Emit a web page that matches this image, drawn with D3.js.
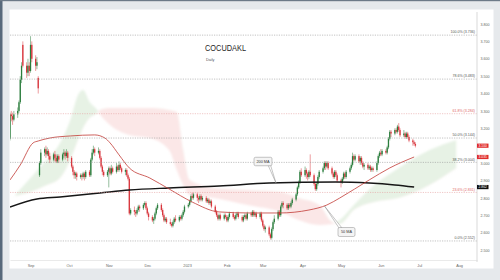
<!DOCTYPE html>
<html>
<head>
<meta charset="utf-8">
<script src="https://cdn.jsdelivr.net/npm/d3@7"></script>
<style>
  body { margin: 0; background: #e6e9ec; }
  svg { display: block; font-family: "Liberation Sans", Arial, sans-serif; }
</style>
</head>
<body>
<script>
// daily sessions start here (weekdays only)
const firstSession = new Date(2022, 7, 16);

// [open, high, low, close] per session
const ohlc = [
  [3.14,3.29,3.13,3.28],[3.28,3.30,3.24,3.27],[3.27,3.29,3.22,3.25],[3.25,3.30,3.24,3.28],[3.28,3.32,3.26,3.30],
  [3.30,3.36,3.29,3.35],[3.35,3.50,3.34,3.48],[3.48,3.58,3.46,3.56],[3.68,3.70,3.55,3.56],[3.56,3.58,3.49,3.52],
  [3.52,3.60,3.50,3.56],[3.56,3.58,3.50,3.53],[3.53,3.73,3.52,3.68],[3.68,3.70,3.58,3.60],[3.60,3.62,3.53,3.56],
  [3.56,3.61,3.54,3.58],[3.49,3.50,3.40,3.43],[2.93,3.01,2.92,3.00],
  [3.00,3.08,2.99,3.06],[3.06,3.09,3.04,3.08],[3.08,3.10,3.03,3.05],[3.05,3.09,3.04,3.07],[3.07,3.08,3.02,3.04],
  [3.04,3.06,3.00,3.02],[3.02,3.06,3.01,3.05],[3.05,3.07,3.01,3.03],[3.03,3.05,3.00,3.01],[3.01,3.05,3.00,3.04],
  [3.04,3.05,3.00,3.02],[3.02,3.06,3.01,3.05],[3.05,3.08,3.03,3.06],[3.06,3.07,3.02,3.04],[3.04,3.08,3.03,3.06],
  [3.06,3.07,3.01,3.03],[3.03,3.04,2.97,2.98],[2.98,2.99,2.93,2.95],[2.95,2.96,2.91,2.93],[2.93,2.95,2.91,2.94],
  [2.94,2.95,2.90,2.92],[2.92,2.94,2.91,2.93],[2.93,2.94,2.90,2.92],[2.92,2.95,2.91,2.94],[2.94,2.95,2.90,2.92],
  [2.92,2.96,2.91,2.95],[2.95,2.96,2.92,2.93],[2.93,3.03,2.92,3.02],[3.02,3.08,3.01,3.06],[3.06,3.10,3.05,3.08],
  [3.08,3.09,3.04,3.06],[3.06,3.09,3.05,3.07],[3.07,3.08,3.02,3.03],[3.03,3.04,2.97,2.98],[2.98,2.99,2.93,2.95],
  [2.95,2.96,2.92,2.93],[2.93,2.96,2.92,2.95],[2.95,2.98,2.86,2.97],[2.97,2.98,2.93,2.94],[2.94,2.99,2.93,2.97],
  [2.97,2.98,2.94,2.95],[2.95,3.00,2.94,2.98],[2.98,2.99,2.95,2.96],[2.96,3.01,2.95,2.99],[2.99,3.00,2.96,2.97],
  [2.97,2.98,2.94,2.95],[2.95,2.97,2.93,2.96],[2.96,2.97,2.92,2.93],[2.93,2.94,2.90,2.91],[2.91,2.92,2.70,2.71],
  [2.71,2.74,2.70,2.73],[2.73,2.75,2.70,2.72],[2.72,2.73,2.69,2.71],[2.71,2.74,2.70,2.73],[2.73,2.76,2.72,2.75],
  [2.75,2.76,2.72,2.74],[2.74,2.77,2.73,2.76],[2.76,2.78,2.75,2.77],[2.77,2.78,2.73,2.74],[2.74,2.75,2.70,2.71],
  [2.71,2.72,2.67,2.69],[2.69,2.70,2.66,2.67],[2.67,2.69,2.65,2.68],[2.68,2.72,2.67,2.71],[2.71,2.75,2.70,2.74],
  [2.74,2.77,2.73,2.76],[2.76,2.77,2.72,2.73],[2.73,2.74,2.69,2.70],[2.70,2.71,2.66,2.67],[2.67,2.69,2.66,2.68],
  [2.68,2.69,2.65,2.66],[2.66,2.68,2.64,2.65],[2.65,2.66,2.63,2.64],[2.64,2.67,2.63,2.66],[2.66,2.69,2.65,2.68],
  [2.68,2.70,2.66,2.67],[2.67,2.70,2.66,2.69],[2.69,2.70,2.67,2.68],[2.68,2.71,2.67,2.70],[2.70,2.73,2.69,2.72],
  [2.72,2.76,2.71,2.75],[2.75,2.77,2.74,2.76],[2.76,2.79,2.75,2.78],[2.78,2.82,2.77,2.81],[2.81,2.83,2.79,2.80],
  [2.80,2.83,2.79,2.82],[2.82,2.83,2.78,2.80],[2.80,2.81,2.77,2.79],[2.79,2.82,2.78,2.81],[2.81,2.82,2.78,2.79],
  [2.79,2.81,2.78,2.80],[2.80,2.81,2.77,2.78],[2.78,2.80,2.77,2.79],[2.79,2.80,2.76,2.77],[2.77,2.79,2.76,2.78],
  [2.78,2.79,2.74,2.75],[2.75,2.76,2.71,2.72],[2.72,2.73,2.69,2.70],[2.70,2.71,2.67,2.68],[2.68,2.71,2.67,2.70],
  [2.70,2.71,2.67,2.68],[2.68,2.71,2.67,2.70],[2.70,2.71,2.68,2.69],[2.69,2.70,2.66,2.67],[2.67,2.70,2.66,2.69],
  [2.69,2.72,2.68,2.71],[2.71,2.72,2.68,2.69],[2.69,2.70,2.67,2.68],[2.68,2.71,2.67,2.70],[2.70,2.72,2.69,2.71],
  [2.71,2.72,2.68,2.69],[2.69,2.70,2.66,2.67],[2.67,2.70,2.66,2.69],[2.69,2.71,2.68,2.70],[2.70,2.71,2.67,2.68],
  [2.68,2.72,2.67,2.71],[2.71,2.72,2.69,2.70],[2.70,2.73,2.69,2.72],[2.72,2.73,2.69,2.70],[2.70,2.72,2.69,2.71],
  [2.71,2.72,2.68,2.69],[2.69,2.72,2.68,2.71],[2.71,2.72,2.66,2.67],[2.67,2.68,2.63,2.64],[2.64,2.65,2.61,2.62],
  [2.62,2.64,2.60,2.63],[2.63,2.64,2.58,2.59],[2.59,2.60,2.56,2.57],[2.57,2.63,2.56,2.62],[2.62,2.67,2.61,2.66],
  [2.66,2.70,2.65,2.68],[2.68,2.73,2.67,2.72],[2.72,2.73,2.69,2.70],[2.70,2.76,2.69,2.75],[2.75,2.78,2.74,2.77],
  [2.77,2.78,2.74,2.76],[2.76,2.77,2.73,2.74],[2.74,2.77,2.73,2.76],[2.76,2.77,2.74,2.75],[2.75,2.78,2.74,2.77],
  [2.77,2.80,2.76,2.79],[2.79,2.83,2.78,2.82],[2.82,2.87,2.81,2.86],[2.86,2.90,2.85,2.89],[2.89,2.96,2.88,2.95],
  [2.95,2.97,2.92,2.93],[2.93,2.98,2.92,2.96],[2.96,2.97,2.91,2.94],[2.94,2.95,2.90,2.92],[2.92,2.96,2.91,2.95],
  [2.95,3.05,2.92,2.93],[2.93,2.94,2.87,2.88],[2.88,2.89,2.84,2.85],[2.85,2.89,2.84,2.88],[2.88,2.93,2.87,2.92],
  [2.92,2.96,2.91,2.95],[2.95,2.98,2.94,2.97],[2.97,3.01,2.96,3.00],[3.00,3.01,2.96,2.98],[2.98,3.01,2.97,3.00],
  [3.00,3.01,2.96,2.97],[2.97,2.98,2.93,2.94],[2.94,2.95,2.91,2.92],[2.92,2.96,2.91,2.95],[2.95,2.96,2.92,2.93],
  [2.93,2.94,2.89,2.90],[2.90,2.91,2.86,2.89],[2.89,2.92,2.88,2.91],[2.91,2.95,2.90,2.94],[2.94,2.95,2.91,2.92],
  [2.92,2.96,2.91,2.95],[2.95,2.98,2.94,2.97],[2.97,3.00,2.96,2.99],[2.99,3.06,2.98,3.04],[3.04,3.05,3.01,3.02],
  [3.02,3.05,3.01,3.04],[3.04,3.05,3.00,3.01],[3.01,3.04,2.99,3.03],[3.03,3.04,2.99,3.00],[3.00,3.01,2.97,2.98],
  [2.98,3.00,2.96,2.99],[2.99,3.00,2.96,2.97],[2.97,2.99,2.96,2.98],[2.98,2.99,2.95,2.96],[2.96,2.98,2.95,2.97],
  [2.97,2.98,2.95,2.96],[2.96,3.01,2.95,3.00],[3.00,3.05,2.99,3.04],[3.04,3.07,3.03,3.06],[3.06,3.08,3.04,3.05],
  [3.05,3.08,3.04,3.07],[3.07,3.08,3.05,3.06],[3.06,3.10,3.05,3.09],[3.09,3.15,3.08,3.14],[3.14,3.19,3.13,3.18],
  [3.18,3.19,3.15,3.17],[3.17,3.20,3.16,3.19],[3.19,3.20,3.17,3.18],[3.18,3.22,3.17,3.21],[3.21,3.23,3.18,3.19],
  [3.19,3.20,3.15,3.16],[3.16,3.19,3.15,3.17],[3.17,3.18,3.14,3.15],[3.15,3.18,3.14,3.17],[3.17,3.18,3.14,3.15],
  [3.15,3.16,3.12,3.13],[3.13,3.14,3.10,3.12],[3.12,3.13,3.10,3.11],[3.11,3.12,3.09,3.10]
];

// moving averages, sampled off the chart [date, value]
const ma50 = [
  ['2022-08-16',2.903],['2022-08-24',2.989],['2022-09-03',3.116],['2022-09-07',3.127],['2022-09-16',3.144],
  ['2022-10-02',3.156],['2022-10-21',3.162],['2022-10-29',3.144],['2022-11-02',3.116],['2022-11-09',3.047],
  ['2022-11-17',2.972],['2022-12-03',2.914],['2022-12-18',2.851],['2023-01-05',2.776],['2023-01-26',2.719],
  ['2023-02-19',2.713],['2023-03-14',2.713],['2023-04-06',2.730],['2023-04-20',2.759],['2023-04-30',2.799],
  ['2023-05-23',2.903],['2023-06-08',2.972],['2023-06-27',3.035]
];
const ma200 = [
  ['2022-08-16',2.747],['2022-09-06',2.793],['2022-09-24',2.805],['2022-10-25',2.828],['2022-11-17',2.845],
  ['2022-12-18',2.857],['2023-01-26',2.868],['2023-03-06',2.885],['2023-04-27',2.891],['2023-05-23',2.885],
  ['2023-06-12',2.874],['2023-06-27',2.862]
];

// ichimoku cloud edges [date, span A, span B]
const cloud = [
  ['2022-08-20',2.816,2.811],['2022-09-01',2.914,2.834],['2022-09-12',3.006,2.868],['2022-09-24',3.116,2.914],
  ['2022-10-02',3.248,3.018],['2022-10-08',3.392,3.133],['2022-10-12',3.421,3.202],['2022-10-17',3.352,3.259],
  ['2022-10-23',3.306,3.288],['2022-10-25',3.282,3.306],['2022-11-02',3.219,3.317],['2022-11-17',3.162,3.317],
  ['2022-12-03',3.144,3.317],['2022-12-18',3.075,3.306],['2022-12-24',2.960,3.294],['2022-12-29',2.874,3.075],
  ['2023-01-03',2.816,2.903],['2023-01-22',2.799,2.857],['2023-02-17',2.759,2.845],['2023-03-15',2.719,2.834],
  ['2023-03-29',2.673,2.799],['2023-04-14',2.644,2.759],['2023-04-24',2.650,2.661],['2023-04-30',2.673,2.650],
  ['2023-05-11',2.759,2.730],['2023-05-27',2.874,2.776],['2023-06-15',2.972,2.799],['2023-07-09',3.075,2.874],
  ['2023-07-30',3.133,2.972]
];

// fibonacci retracement
const fibNames = ['0.0%', '23.6%', '38.2%', '50.0%', '61.8%', '78.6%', '100.0%'];
const fibValues = [2.552, 2.831, 3.004, 3.144, 3.284, 3.483, 3.736];
const fibRed = ['23.6%', '61.8%'];

const yTicks = [2.5, 2.6, 2.7, 2.8, 2.9, 3.0, 3.1, 3.2, 3.3, 3.4, 3.5, 3.6, 3.7, 3.8];
const monthTicks = ['2022-09-01', '2022-10-01', '2022-11-01', '2022-12-01', '2023-01-01', '2023-02-01',
  '2023-03-01', '2023-04-01', '2023-05-01', '2023-06-01', '2023-07-01', '2023-08-01'];

// constants
const width = 500;
const height = 280;
const plot = { left: 10, right: 477, top: 10, bottom: 260 };

const parse = d3.timeParse('%Y-%m-%d');

// one date per weekday session
const sessions = d3.timeDay.range(firstSession, new Date(2023, 6, 1))
  .filter((d) => d.getDay() !== 0 && d.getDay() !== 6)
  .slice(0, ohlc.length);
const candles = ohlc.map((r, i) => ({ date: sessions[i], o: r[0], h: r[1], l: r[2], c: r[3] }));

const x = d3.scaleTime()
  .domain([new Date(2022, 7, 16), new Date(2023, 7, 15)])
  .range([plot.left, plot.right]);
const y = d3.scaleLinear()
  .domain([2.5, 3.8])
  .range([250, 24]);

const svg = d3.select('body').append('svg')
  .attr('width', width)
  .attr('height', height);

// frame round the chart panel
svg.append('rect').attr('width', width).attr('height', height).attr('fill', '#e6e9ec');
svg.append('rect').attr('width', 2.5).attr('height', height).attr('fill', '#58697b');
svg.append('rect').attr('width', width).attr('height', 1.2).attr('fill', '#6d7a88');
svg.append('rect')
  .attr('x', 9.5).attr('y', 9.5)
  .attr('width', 484).attr('height', 259)
  .attr('fill', '#fff');

const defs = svg.append('defs');
defs.append('clipPath').attr('id', 'plot-clip')
  .append('rect')
  .attr('x', plot.left).attr('y', plot.top)
  .attr('width', plot.right - plot.left).attr('height', plot.bottom - plot.top);
defs.append('filter').attr('id', 'soft')
  .append('feGaussianBlur').attr('stdDeviation', 1.1);

const cloudData = cloud.map((d) => ({ date: parse(d[0]), a: d[1], b: d[2] }));
const curve = d3.curveMonotoneX;

// clip regions above / below span B, so the cloud turns green or red
defs.append('clipPath').attr('id', 'above-b')
  .append('path')
  .attr('d', d3.area().curve(curve).x((d) => x(d.date)).y0(0).y1((d) => y(d.b))(cloudData));
defs.append('clipPath').attr('id', 'below-b')
  .append('path')
  .attr('d', d3.area().curve(curve).x((d) => x(d.date)).y0(height).y1((d) => y(d.b))(cloudData));

const chart = svg.append('g').attr('clip-path', 'url(#plot-clip)');

const cloudArea = d3.area().curve(curve)
  .x((d) => x(d.date))
  .y0((d) => y(d.b))
  .y1((d) => y(d.a));
const cloudG = chart.append('g').attr('filter', 'url(#soft)');
cloudG.append('g').attr('clip-path', 'url(#above-b)')
  .append('path')
  .attr('d', cloudArea(cloudData))
  .attr('fill', '#cfe6cc')
  .attr('opacity', 0.5);
cloudG.append('g').attr('clip-path', 'url(#below-b)')
  .append('path')
  .attr('d', cloudArea(cloudData))
  .attr('fill', '#f7caca')
  .attr('opacity', 0.45);

// fibonacci levels
const fib = svg.append('g');
fib.selectAll('line')
  .data(fibValues)
  .join('line')
  .attr('x1', plot.left)
  .attr('x2', plot.right)
  .attr('y1', (d) => y(d))
  .attr('y2', (d) => y(d))
  .attr('stroke', (d, i) => (fibRed.includes(fibNames[i]) ? '#e6a3a3' : '#9a9a9a'))
  .attr('stroke-width', 0.6)
  .attr('stroke-dasharray', '1.2 1.2');
fib.selectAll('text')
  .data(fibValues)
  .join('text')
  .attr('x', plot.right - 2)
  .attr('y', (d) => y(d) - 1.8)
  .attr('text-anchor', 'end')
  .attr('font-size', 3.6)
  .attr('fill', (d, i) => (fibRed.includes(fibNames[i]) ? '#e06666' : '#555'))
  .text((d, i) => `${fibNames[i]} (${d.toFixed(3)})`);

// candles
const bodyW = 1.3;
const candle = chart.append('g')
  .selectAll('g')
  .data(candles)
  .join('g')
  .attr('transform', (d) => `translate(${x(d.date)},0)`);
candle.append('line')
  .attr('y1', (d) => y(d.h))
  .attr('y2', (d) => y(d.l))
  .attr('stroke', (d) => (d.c >= d.o ? '#2a7d3c' : '#d8363d'))
  .attr('stroke-width', 0.5);
candle.append('rect')
  .attr('x', -bodyW / 2)
  .attr('width', bodyW)
  .attr('y', (d) => y(Math.max(d.o, d.c)))
  .attr('height', (d) => Math.max(0.5, Math.abs(y(d.o) - y(d.c))))
  .attr('fill', (d) => (d.c >= d.o ? '#2a7d3c' : '#d8363d'));

// moving averages
const maLine = d3.line().curve(curve)
  .x((d) => x(parse(d[0])))
  .y((d) => y(d[1]));
chart.append('path')
  .attr('d', maLine(ma200))
  .attr('fill', 'none')
  .attr('stroke', '#161616')
  .attr('stroke-width', 1.4);
chart.append('path')
  .attr('d', maLine(ma50))
  .attr('fill', 'none')
  .attr('stroke', '#c23a35')
  .attr('stroke-width', 0.8);

// callouts
const callout = (cx, cy, w, h, label, pointer) => {
  const g = svg.append('g');
  g.append('path')
    .attr('d', pointer)
    .attr('fill', '#fff')
    .attr('stroke', '#8d8d8d')
    .attr('stroke-width', 0.5);
  g.append('rect')
    .attr('x', cx - w / 2).attr('y', cy - h / 2)
    .attr('width', w).attr('height', h)
    .attr('rx', 1.6)
    .attr('fill', '#f4f4f4')
    .attr('stroke', '#8d8d8d')
    .attr('stroke-width', 0.5);
  g.append('text')
    .attr('x', cx).attr('y', cy + 1.3)
    .attr('text-anchor', 'middle')
    .attr('font-size', 3.8)
    .attr('fill', '#333')
    .text(label);
};
callout(263, 161.5, 18, 8.5, '200 MA', 'M268,165 L276,183 L270.5,165 Z');
callout(346.5, 232, 17, 9, '50 MA', 'M324.5,206 L339,228 L342,228 Z');

// price tags on the axis
const lastClose = candles[candles.length - 1].c;
const tags = [
  { v: lastClose, fill: '#e02c2c' },
  { v: ma50[ma50.length - 1][1], fill: '#e02c2c' },
  { v: ma200[ma200.length - 1][1], fill: '#111' },
];

// axes
svg.append('line')
  .attr('x1', plot.right).attr('x2', plot.right)
  .attr('y1', 12).attr('y2', 262)
  .attr('stroke', '#c9c9c9')
  .attr('stroke-width', 0.7);

// tick labels hidden under a price tag are not drawn
const freeTicks = yTicks.filter((t) => tags.every((d) => Math.abs(y(t) - y(d.v)) > 3.5));
const yAxis = svg.append('g')
  .attr('transform', `translate(${plot.right},0)`)
  .call(d3.axisRight(y).tickValues(freeTicks).tickSize(0).tickPadding(3.5).tickFormat(d3.format('.3f')));
yAxis.select('.domain').remove();
yAxis.selectAll('text').attr('font-size', 3.6).attr('fill', '#666');

const xAxis = svg.append('g')
  .attr('transform', `translate(0,${plot.bottom})`)
  .call(d3.axisBottom(x)
    .tickValues(monthTicks.map(parse))
    .tickSize(0)
    .tickSizeOuter(0)
    .tickPadding(4)
    .tickFormat((d) => (d.getMonth() === 0 ? d3.timeFormat('%Y')(d) : d3.timeFormat('%b')(d))));
xAxis.select('.domain').attr('stroke', '#dcdcdc').attr('stroke-width', 0.6);
xAxis.selectAll('text').attr('font-size', 3.8).attr('fill', '#666');

const tag = svg.append('g')
  .selectAll('g')
  .data(tags)
  .join('g')
  .attr('transform', (d) => `translate(${plot.right},${y(d.v)})`);
tag.append('rect')
  .attr('y', -2.1).attr('width', 11.5).attr('height', 4.2)
  .attr('fill', (d) => d.fill);
tag.append('text')
  .attr('x', 5.75).attr('y', 1.2)
  .attr('text-anchor', 'middle')
  .attr('font-size', 3.3)
  .attr('fill', '#fff')
  .text((d) => d.v.toFixed(3));

// title
svg.append('text')
  .attr('x', 205).attr('y', 51)
  .attr('font-size', 8.5)
  .attr('textLength', 41)
  .attr('lengthAdjust', 'spacingAndGlyphs')
  .attr('fill', '#1e1e1e')
  .text('COCUDAKL');
svg.append('text')
  .attr('x', 206).attr('y', 60.5)
  .attr('font-size', 3.8)
  .attr('fill', '#555')
  .text('Daily');
</script>
</body>
</html>
